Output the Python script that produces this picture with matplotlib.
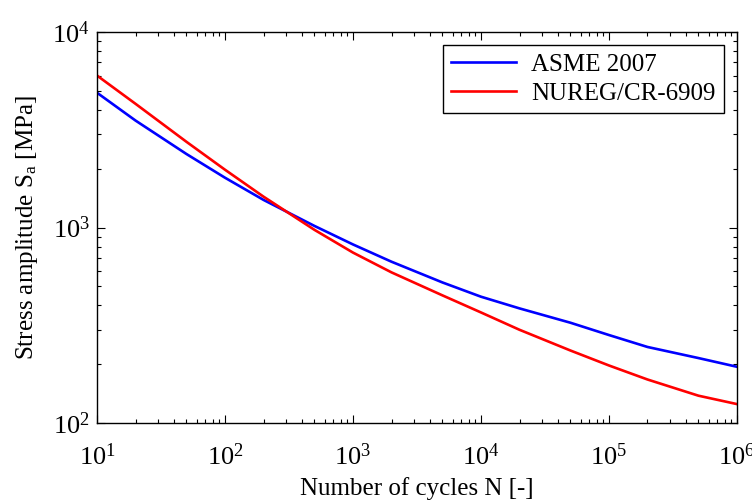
import matplotlib
matplotlib.use("Agg")
import matplotlib.pyplot as plt
from matplotlib.ticker import LogLocator, NullFormatter

plt.rcParams['font.family'] = ['Liberation Serif', 'DejaVu Serif']
plt.rcParams['mathtext.fontset'] = 'custom'
plt.rcParams['mathtext.rm'] = 'Liberation Serif'
plt.rcParams['mathtext.it'] = 'Liberation Serif:italic'
plt.rcParams['mathtext.default'] = 'regular'

cycles = [10, 20, 50, 100, 200, 500, 1e3, 2e3, 5e3, 1e4, 2e4, 5e4, 1e5, 2e5, 5e5, 1e6]
asme_2007 = [4900, 3530, 2380, 1800, 1386, 1020, 820, 669, 524, 443, 386, 326, 282, 245, 215, 194]
nureg_6909 = [6000, 4300, 2748, 1978, 1440, 974, 745, 590, 450, 368, 300, 235, 197, 167, 138, 125]

fig = plt.figure(figsize=(7.52, 5.03), dpi=100)
ax = fig.add_axes([0.129, 0.159, 0.851, 0.777])

ax.loglog(cycles, asme_2007, color=(0, 0, 1), lw=1.9, label='ASME 2007')
ax.loglog(cycles, nureg_6909, color=(1, 0, 0), lw=1.9, label='NUREG/CR-6909')

ax.set_xlim(10, 1e6)
ax.set_ylim(100, 1e4)
ax.xaxis.set_major_locator(LogLocator(base=10, numticks=10))
ax.yaxis.set_major_locator(LogLocator(base=10, numticks=10))
ax.xaxis.set_minor_locator(LogLocator(base=10, subs=range(2, 10), numticks=20))
ax.yaxis.set_minor_locator(LogLocator(base=10, subs=range(2, 10), numticks=20))
ax.xaxis.set_minor_formatter(NullFormatter())
ax.yaxis.set_minor_formatter(NullFormatter())

ax.tick_params(which='both', direction='in', top=True, right=True, labelsize=19, width=0.8)
ax.tick_params(which='major', length=6)
ax.tick_params(axis='x', which='major', pad=15)
ax.tick_params(axis='y', which='major', pad=5)
ax.tick_params(which='minor', length=3)
for s in ax.spines.values():
    s.set_linewidth(1.0)

ax.set_xlabel('Number of cycles N [-]', fontsize=18, labelpad=5)
ax.set_ylabel('Stress amplitude S$_\\mathrm{a}$ [MPa]', fontsize=18, labelpad=9)

leg = ax.legend(loc='upper right', fontsize=18, fancybox=False, framealpha=1,
                edgecolor='black', borderpad=0.35, handlelength=2.6,
                borderaxespad=0.5, labelspacing=0.25, handletextpad=0.6)
leg.get_frame().set_linewidth(1.0)

fig.savefig('out.png', dpi=100)
